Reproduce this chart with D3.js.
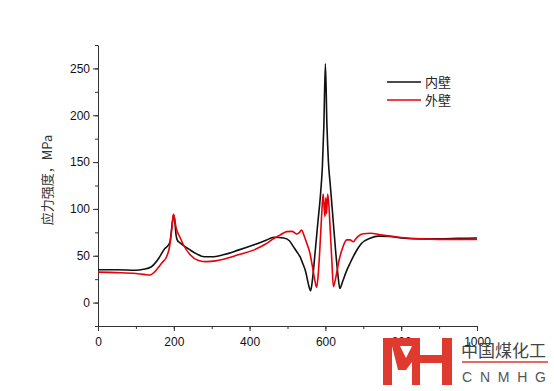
<!DOCTYPE html>
<html>
<head>
<meta charset="utf-8">
<script src="https://cdn.jsdelivr.net/npm/d3@7"></script>
<style>
  body { margin: 0; background: #fff; }
  svg { display: block; }
</style>
</head>
<body>
<svg id="chart" width="554" height="391"></svg>
<script>
// series data (position along the wall, stress in MPa)
var innerX = [0, 50, 100, 120, 140, 160, 175, 185, 190, 194, 197, 200, 203, 206, 210, 216, 225, 240, 260, 280, 300, 330, 370, 410, 440, 465, 490, 505, 515, 525, 533, 540, 548, 555, 561, 566, 572, 580, 587, 592, 596, 600, 604, 608, 613, 620, 627, 633, 638, 645, 655, 665, 680, 695, 718, 740, 770, 800, 850, 900, 950, 1000];
var innerY = [35, 35, 34.5, 35.5, 38, 47, 57, 61, 65, 78, 88, 93.5, 85, 72, 66, 64, 61, 57, 52, 49, 49, 51, 56, 61.5, 66, 69.7, 69, 66, 60, 54, 49, 42, 33, 20, 12.5, 25, 50, 85, 115, 145, 190, 255, 190, 150, 125, 90, 55, 30, 15, 22, 33, 42, 54, 63, 68.7, 71, 70.5, 69, 68, 68, 68.5, 69];

var outerX = [0, 50, 100, 125, 137, 150, 160, 170, 181, 188, 193, 197, 199, 202, 206, 211, 216, 225, 243, 265, 287, 310, 331, 370, 410, 440, 466, 480, 498, 512, 524, 532, 537, 545, 552, 559, 566, 572, 577, 582, 587, 591, 594, 597, 599, 601, 603, 606, 609, 613, 617, 621, 628, 636, 645, 656, 665, 674, 680, 687, 700, 718, 750, 800, 850, 900, 1000];
var outerY = [32.5, 32, 31, 29.8, 29.5, 33, 38, 43, 49, 58, 72, 88, 94.3, 90, 80, 74, 70, 62, 51, 45, 43.7, 44.5, 46.3, 51, 56, 62, 69, 72, 75.8, 76, 73.3, 75, 77.5, 70, 62, 53, 38, 24, 16.4, 35, 70, 100, 116, 100, 92, 112, 95, 116, 105, 75, 45, 17, 28, 45, 58, 67, 67, 65, 68, 71, 73.5, 74, 72, 69.5, 68, 67.5, 67.5];

var seriesNames = ["内壁", "外壁"];
var seriesColors = ["#111111", "#e8000b"];

var xTicks = [0, 200, 400, 600, 800, 1000];
var yTicks = [0, 50, 100, 150, 200, 250];

var svg = d3.select("#chart");
var margin = { left: 98, right: 77, top: 45, bottom: 65 };
var width = 554 - margin.left - margin.right,
  height = 391 - margin.top - margin.bottom;

var x = d3.scaleLinear().domain([0, 1000]).range([margin.left, margin.left + width]);
var y = d3.scaleLinear().domain([-25, 275]).range([margin.top + height, margin.top]);

var axisColor = "#333";

// minor ticks first, then labelled major ticks
svg.append("g")
  .attr("transform", "translate(0," + (margin.top + height) + ")")
  .call(d3.axisBottom(x).tickValues(d3.range(0, 1001, 100)).tickSize(3).tickFormat(""))
  .call(g => g.select(".domain").remove());
svg.append("g")
  .attr("transform", "translate(0," + (margin.top + height) + ")")
  .call(d3.axisBottom(x).tickValues(xTicks).tickSize(5).tickSizeOuter(0).tickFormat(d3.format("d")))
  .call(g => g.selectAll("text").attr("dy", "1.0em"));

svg.append("g")
  .attr("transform", "translate(" + margin.left + ",0)")
  .call(d3.axisLeft(y).tickValues(d3.range(-25, 276, 25)).tickSize(3).tickFormat(""))
  .call(g => g.select(".domain").remove());
svg.append("g")
  .attr("transform", "translate(" + margin.left + ",0)")
  .call(d3.axisLeft(y).tickValues(yTicks).tickSize(5).tickSizeOuter(0));

svg.selectAll(".tick line, .domain").attr("stroke", axisColor).attr("stroke-width", 1);
svg.selectAll(".tick text")
  .attr("fill", "#111")
  .style("font-family", "Liberation Sans, Arial, sans-serif")
  .style("font-size", "12px");

// y axis title
svg.append("text")
  .attr("transform", "translate(52," + 180 + ") rotate(-90)")
  .attr("text-anchor", "middle")
  .attr("fill", "#333")
  .style("font-family", "Noto Sans CJK SC, sans-serif")
  .style("font-size", "13px")
  .text("应力强度，MPa");

// the two curves
var line = d3.line()
  .x(d => x(d[0]))
  .y(d => y(d[1]))
  .curve(d3.curveMonotoneX);

var series = [
  d3.zip(innerX, innerY),
  d3.zip(outerX, outerY)
];

svg.append("g")
  .selectAll("path")
  .data(series)
  .enter()
  .append("path")
  .attr("d", line)
  .attr("fill", "none")
  .attr("stroke", (d, i) => seriesColors[i])
  .attr("stroke-width", 1.6)
  .attr("stroke-linejoin", "round");

// legend
var legend = svg.append("g").attr("transform", "translate(387,82)");
seriesNames.forEach(function (name, i) {
  legend.append("line")
    .attr("x1", 0).attr("x2", 34)
    .attr("y1", i * 18).attr("y2", i * 18)
    .attr("stroke", seriesColors[i])
    .attr("stroke-width", 1.6);
  legend.append("text")
    .attr("x", 38).attr("y", i * 18)
    .attr("dy", "0.35em")
    .attr("fill", "#222")
    .style("font-family", "Noto Sans CJK SC, sans-serif")
    .style("font-size", "13px")
    .text(name);
});

// watermark logo at the bottom right
var logo = svg.append("g").attr("fill", "#e03a2f");
logo.append("rect").attr("x", 383).attr("y", 338).attr("width", 9).attr("height", 47);
logo.append("rect").attr("x", 383).attr("y", 338).attr("width", 37).attr("height", 8);
logo.append("path").attr("d", "M392,346 L400,346 L406,358 L412,346 L412,362 L406,370 L398,370 Z");
logo.append("rect").attr("x", 412).attr("y", 338).attr("width", 8).attr("height", 47);
logo.append("rect").attr("x", 420).attr("y", 355).attr("width", 22).attr("height", 8);
logo.append("rect").attr("x", 442).attr("y", 338).attr("width", 10).attr("height", 47);

svg.append("text")
  .attr("x", 461).attr("y", 357)
  .attr("fill", "#444")
  .style("font-family", "Noto Sans CJK SC, sans-serif")
  .style("font-size", "17px")
  .text("中国煤化工");
svg.append("line")
  .attr("x1", 462).attr("x2", 548)
  .attr("y1", 362).attr("y2", 362)
  .attr("stroke", "#e03a2f")
  .attr("stroke-width", 1.5);
svg.append("text")
  .attr("x", 462).attr("y", 382)
  .attr("fill", "#555")
  .style("font-family", "Liberation Sans, Arial, sans-serif")
  .style("font-size", "14px")
  .attr("textLength", 84)
  .attr("lengthAdjust", "spacing")
  .text("CNMHG");
</script>
</body>
</html>
